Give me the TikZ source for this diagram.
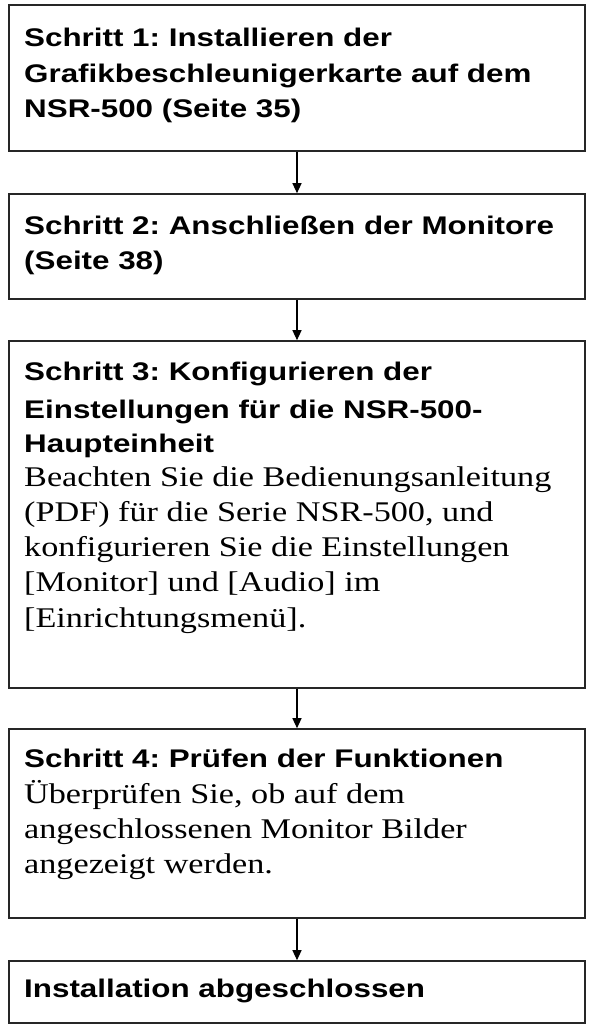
\documentclass[tikz,border=0pt]{standalone}
\usepackage{fontspec}
\setmainfont[FakeStretch=1.2]{Liberation Serif}
\newfontfamily\headfont[FakeStretch=1.23]{Liberation Sans}
\usetikzlibrary{arrows.meta}
\frenchspacing
\begin{document}
\begin{tikzpicture}[x=1pt,y=-1pt,
  box/.style={draw=black!85,line width=1.6pt,minimum width=576pt,inner sep=0pt},
  hd/.style={anchor=base west,inner sep=0pt,font=\headfont\bfseries\fontsize{25.5}{30}\selectfont},
  bd/.style={anchor=base west,inner sep=0pt,font=\fontsize{28.5}{32}\selectfont},
  conn/.style={line width=1.2pt,-{Triangle[length=10pt,width=9pt]}}]
\useasboundingbox (0,0) rectangle (590,1026);
\node[box,minimum height=146pt] (b1) at (297,78) {};
\node[box,minimum height=105pt] (b2) at (297,246.5) {};
\node[box,minimum height=347pt] (b3) at (297,514.5) {};
\node[box,minimum height=189pt] (b4) at (297,823.5) {};
\node[box,minimum height=62pt] (b5) at (297,992) {};
% box 1
\node[hd] (t1a) at (24,46) {Schritt 1: Installieren der};
\node[hd] (t1b) at (24,82) {Grafikbeschleunigerkarte auf dem};
\node[hd] (t1c) at (24,117) {NSR-500 (Seite 35)};
% box 2
\node[hd] (t2a) at (24,234) {Schritt 2: Anschließen der Monitore};
\node[hd] (t2b) at (24,269) {(Seite 38)};
% box 3
\node[hd] (t3a) at (24,380) {Schritt 3: Konfigurieren der};
\node[hd] (t3b) at (24,418) {Einstellungen für die NSR-500-};
\node[hd] (t3c) at (24,452) {Haupteinheit};
\node[bd] (t3d) at (24,486) {Beachten Sie die Bedienungsanleitung};
\node[bd] (t3e) at (24,521) {(PDF) für die Serie NSR-500, und};
\node[bd] (t3f) at (24,556) {konfigurieren Sie die Einstellungen};
\node[bd] (t3g) at (24,591) {[Monitor] und [Audio] im};
\node[bd] (t3h) at (24,627) {[Einrichtungsmenü].};
% box 4
\node[hd] (t4a) at (24,767) {Schritt 4: Prüfen der Funktionen};
\node[bd] (t4b) at (24,803) {Überprüfen Sie, ob auf dem};
\node[bd] (t4c) at (24,838) {angeschlossenen Monitor Bilder};
\node[bd] (t4d) at (24,873) {angezeigt werden.};
% box 5
\node[hd] (t5a) at (24,997) {Installation abgeschlossen};
% connectors
\draw[conn] (b1.south) -- (b2.north);
\draw[conn] (b2.south) -- (b3.north);
\draw[conn] (b3.south) -- (b4.north);
\draw[conn] (b4.south) -- (b5.north);
\end{tikzpicture}
\end{document}
